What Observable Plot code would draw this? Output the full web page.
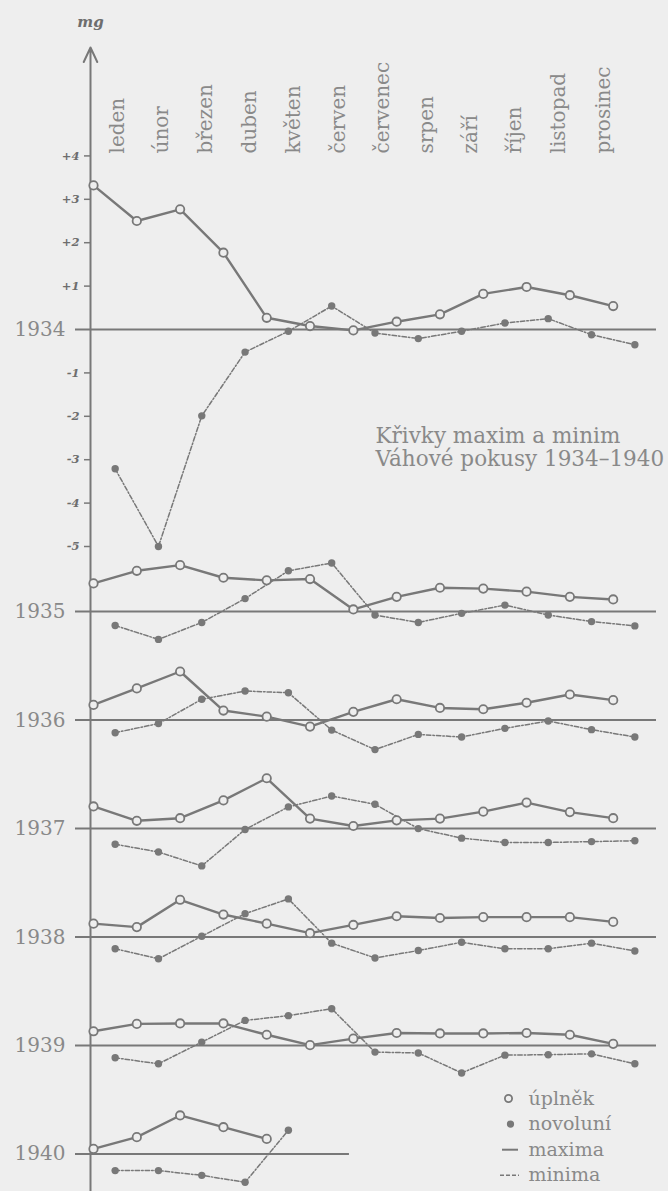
<!DOCTYPE html>
<html><head><meta charset="utf-8">
<script src="https://cdn.jsdelivr.net/npm/d3@7"></script>
<script src="https://cdn.jsdelivr.net/npm/@observablehq/plot@0.6"></script>
<style>
html,body{margin:0;padding:0;background:#eeeeee;overflow:hidden;}
#chart svg{display:block;}
</style></head><body><div id="chart"></div>
<script>
// ---- data ----
const months = ["leden","únor","březen","duben","květen","červen","červenec","srpen","září","říjen","listopad","prosinec"];
const years = [1934,1935,1936,1937,1938,1939,1940];
const tickValues = [4,3,2,1,-1,-2,-3,-4,-5];
const tickLabels = ["+4","+3","+2","+1","-1","-2","-3","-4","-5"];
// maxima at full moon (úplněk), minima at new moon (novoluní), mg relative to each year's line
const max1934 = [3.32,2.5,2.77,1.77,0.27,0.08,-0.02,0.18,0.35,0.82,0.98,0.79,0.54];
const min1934 = [-3.21,-5.0,-1.99,-0.52,-0.04,0.54,-0.08,-0.21,-0.04,0.15,0.25,-0.12,-0.35];
const max1935 = [0.65,0.94,1.07,0.78,0.72,0.75,0.05,0.34,0.55,0.53,0.46,0.34,0.28];
const min1935 = [-0.32,-0.64,-0.25,0.30,0.94,1.12,-0.08,-0.25,-0.04,0.15,-0.08,-0.23,-0.33];
const max1936 = [0.35,0.73,1.12,0.22,0.08,-0.15,0.19,0.48,0.28,0.25,0.40,0.59,0.46];
const min1936 = [-0.29,-0.08,0.48,0.67,0.63,-0.23,-0.68,-0.33,-0.39,-0.19,-0.02,-0.22,-0.39];
const max1937 = [0.51,0.18,0.24,0.65,1.16,0.23,0.06,0.19,0.23,0.39,0.60,0.38,0.24];
const min1937 = [-0.36,-0.54,-0.86,-0.02,0.50,0.75,0.56,0.0,-0.22,-0.32,-0.32,-0.30,-0.28];
const max1938 = [0.31,0.23,0.86,0.52,0.31,0.09,0.28,0.48,0.44,0.46,0.46,0.46,0.35];
const min1938 = [-0.27,-0.50,0.02,0.54,0.88,-0.14,-0.48,-0.31,-0.12,-0.27,-0.27,-0.14,-0.32];
const max1939 = [0.33,0.50,0.51,0.51,0.25,0.01,0.16,0.29,0.28,0.28,0.29,0.25,0.04];
const min1939 = [-0.28,-0.42,0.08,0.58,0.69,0.85,-0.15,-0.17,-0.63,-0.22,-0.21,-0.19,-0.42];
const max1940 = [0.12,0.39,0.89,0.62,0.35];
const min1940 = [-0.38,-0.38,-0.49,-0.65,0.55];
const titleLines = ["Křivky maxim a minim","Váhové pokusy 1934–1940"];
const legendLabels = ["úplněk","novoluní","maxima","minima"];
const unitLabel = "mg";

// ---- layout ----
const W = 668, H = 1191;
const yearShift = [0,-6.5,-9,-11.5,-14,-16.5,-19]; // stacking of the yearly panels (mg units)
const lineEnd = [13,13,13,13,13,13,5.91];
const xDomain = [-0.4157, 13.0], xRange = [75, 656];
const yDomain = [-19.862, 7.581], yRange = [H, 0];
const xs = d3.scaleLinear(xDomain, xRange), ys = d3.scaleLinear(yDomain, yRange);
const axisX = xs.invert(90);
const ink = "#787878", txt = "#898989", bg = "#eeeeee";

const maxSets = [max1934,max1935,max1936,max1937,max1938,max1939,max1940];
const minSets = [min1934,min1935,min1936,min1937,min1938,min1939,min1940];
const maxData = [], minData = [];
years.forEach((yr, k) => {
  maxSets[k].forEach((v, i) => maxData.push({year: yr, t: i, v: v + yearShift[k]}));
  minSets[k].forEach((v, i) => minData.push({year: yr, t: i + 0.5, v: v + yearShift[k]}));
});
const yearRows = years.map((yr, k) => ({year: yr, y: yearShift[k], x2: lineEnd[k]}));

const legX = xs.invert(528);
const legRows = legendLabels.map((l, i) => ({label: l, y: ys.invert(1098 + i * 25.6)}));
const titleRows = titleLines.map((l, i) => ({label: l, y: ys.invert(442 + i * 23.5)}));

const plot = Plot.plot({
  width: W, height: H,
  marginLeft: xRange[0], marginRight: W - xRange[1], marginTop: 0, marginBottom: 0,
  x: {domain: xDomain, axis: null},
  y: {domain: yDomain, axis: null},
  style: {background: bg, fontFamily: "'DejaVu Serif', serif", color: txt},
  marks: [
    // yearly baselines
    Plot.ruleY(yearRows, {y: "y", x1: xDomain[0], x2: "x2", stroke: ink, strokeWidth: 2}),
    Plot.text(yearRows, {x: xDomain[0], y: "y", text: d => String(d.year), dx: -10, textAnchor: "end", fontSize: 20, fill: txt}),
    // vertical axis with arrow
    Plot.arrow([0], {x1: axisX, x2: axisX, y1: yDomain[0], y2: ys.invert(47), stroke: ink, strokeWidth: 2, headLength: 12, headAngle: 50}),
    Plot.ruleY(tickValues, {y: d => d, x1: xs.invert(84), x2: axisX, stroke: ink, strokeWidth: 1.5}),
    Plot.text(tickValues, {x: axisX, y: d => d, text: (d, i) => tickLabels[i], dx: -11, textAnchor: "end", fontSize: 11.5, fontStyle: "italic", fontWeight: "bold", fill: "#6d6d6d"}),
    Plot.text([unitLabel], {x: axisX, y: ys.invert(22), text: d => d, fontSize: 15, fontStyle: "italic", fontWeight: "bold", fill: "#6d6d6d"}),
    // month labels
    Plot.text(months, {x: (d, i) => 0.55 + i * 1.02, y: ys.invert(153), text: d => d, rotate: -90, textAnchor: "start", fontSize: 20, fill: txt}),
    // curves
    Plot.line(minData, {x: "t", y: "v", z: "year", stroke: ink, strokeWidth: 1.5, strokeDasharray: "4.5,2,1.5,2"}),
    Plot.line(maxData, {x: "t", y: "v", z: "year", stroke: ink, strokeWidth: 2.4}),
    Plot.dot(minData, {x: "t", y: "v", r: 3.7, fill: ink, stroke: null}),
    Plot.dot(maxData, {x: "t", y: "v", r: 4.2, fill: bg, stroke: ink, strokeWidth: 1.8}),
    // title
    Plot.text(titleRows, {x: xs.invert(375), y: "y", text: "label", textAnchor: "start", lineAnchor: "bottom", fontSize: 21.5, fill: txt}),
    // legend
    Plot.text(legRows, {x: legX, y: "y", text: "label", textAnchor: "start", fontSize: 19, fill: txt}),
    Plot.dot([legRows[0]], {x: xs.invert(508), y: "y", r: 3.6, fill: bg, stroke: ink, strokeWidth: 1.8}),
    Plot.dot([legRows[1]], {x: xs.invert(510), y: "y", r: 3.6, fill: ink}),
    Plot.ruleY([legRows[2]], {y: "y", x1: xs.invert(502), x2: xs.invert(518), stroke: ink, strokeWidth: 2}),
    Plot.ruleY([legRows[3]], {y: "y", x1: xs.invert(500), x2: xs.invert(519), stroke: ink, strokeWidth: 1.5, strokeDasharray: "4,2"})
  ]
});
document.getElementById("chart").appendChild(plot);
</script></body></html>
